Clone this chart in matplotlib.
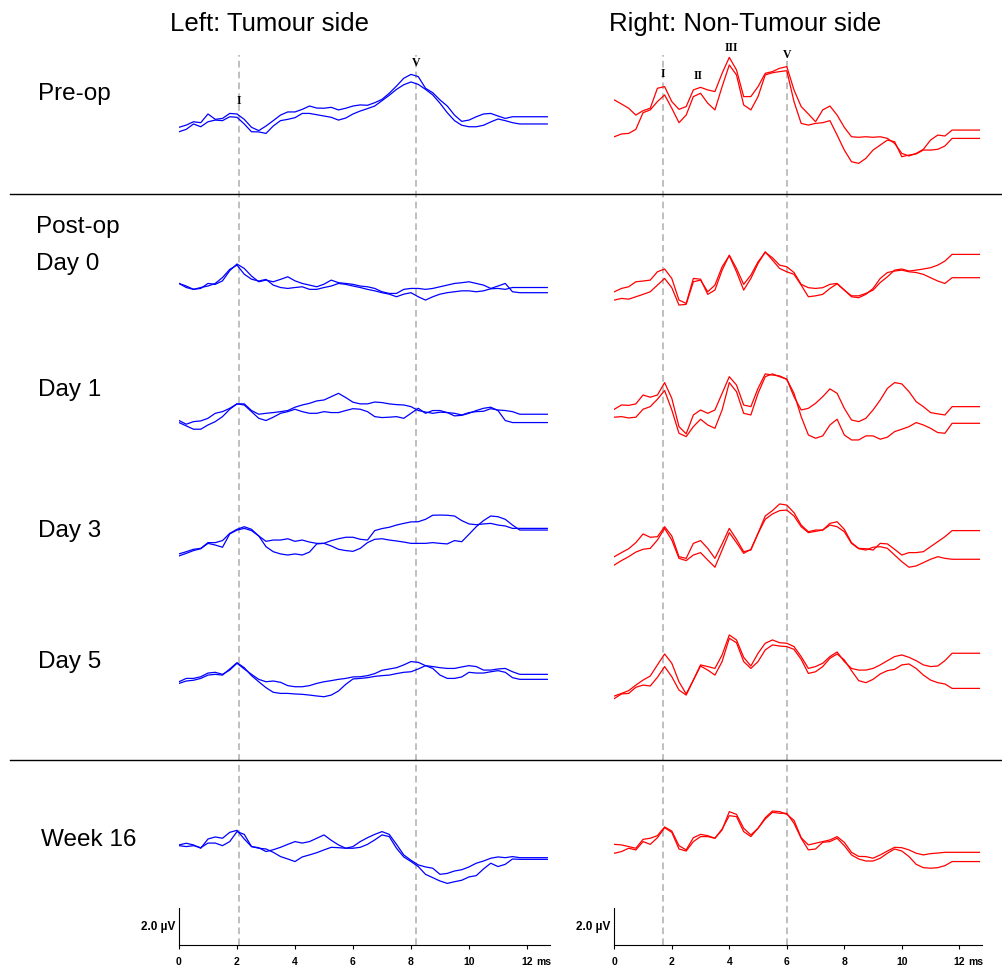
import matplotlib
matplotlib.use("Agg")
import matplotlib.pyplot as plt
import numpy as np
from matplotlib.lines import Line2D

# averaged ABR traces, sampled every 0.25 ms (values in uV)
TIMES = np.arange(48) * 0.25
TAIL_END = 12.7  # traces are padded flat up to here

ROW_NAMES = ["Pre-op", "Day 0", "Day 1", "Day 3", "Day 5", "Week 16"]
ROW_OFFSETS = [44.0, 35.4, 28.4, 21.1, 14.0, 5.1]

LEFT_PEAKS = ["I", "V"]
LEFT_LATENCIES = [2.06, 8.16]
RIGHT_PEAKS = ["I", "II", "III", "V"]
RIGHT_LATENCIES = [1.68, 2.91, 4.06, 6.0]

leftPreA = [0.20, 0.32, 0.50, 0.45, 0.92, 0.63, 0.68, 0.95, 0.92, 0.63, 0.20, 0.02, 0.27, 0.56, 0.86, 1.03,
            1.03, 1.17, 1.35, 1.24, 1.23, 1.28, 1.14, 1.23, 1.35, 1.41, 1.39, 1.53, 1.71, 2.04, 2.43, 2.85,
            3.06, 2.94, 2.31, 2.07, 1.68, 1.35, 0.86, 0.52, 0.59, 0.77, 0.92, 0.95, 0.81, 0.68, 0.77, 0.77]
leftPreB = [-0.04, 0.09, 0.38, 0.23, 0.50, 0.59, 0.56, 0.77, 0.74, 0.38, -0.04, -0.05, -0.13, 0.27, 0.56, 0.63,
            0.72, 0.95, 0.95, 0.88, 0.81, 0.74, 0.59, 0.70, 0.92, 1.08, 1.21, 1.35, 1.64, 1.93, 2.25, 2.50,
            2.65, 2.52, 2.25, 1.95, 1.50, 0.99, 0.56, 0.31, 0.23, 0.23, 0.31, 0.49, 0.65, 0.56, 0.45, 0.38]
rightPreA = [1.68, 1.46, 1.23, 0.86, 1.10, 1.23, 2.31, 2.40, 1.59, 1.17, 1.32, 2.22, 2.36, 2.22, 2.13, 3.12,
             3.98, 3.30, 1.86, 1.86, 2.40, 3.12, 3.21, 3.39, 3.48, 2.22, 1.32, 0.92, 0.50, 1.14, 1.35, 0.86,
             0.20, -0.31, -0.34, -0.31, -0.34, -0.31, -0.40, -0.67, -1.21, -1.35, -1.21, -0.99, -0.49, -0.22, -0.27, 0.05]
rightPreB = [-0.31, -0.16, -0.13, 0.09, 0.99, 1.14, 1.59, 1.95, 1.23, 0.45, 0.86, 1.86, 2.04, 1.50, 1.14, 2.40,
             3.57, 3.03, 1.41, 1.14, 1.86, 3.03, 3.15, 3.21, 3.26, 1.59, 0.41, 0.32, 0.41, 0.45, 0.56, -0.22,
             -1.03, -1.66, -1.75, -1.48, -1.03, -0.76, -0.49, -0.58, -1.39, -1.30, -1.24, -1.03, -1.03, -0.99, -0.81, -0.40]

leftDay0A = [0.36, 0.22, 0.04, 0.09, 0.36, 0.31, 0.50, 1.05, 1.41, 1.17, 0.76, 0.45, 0.54, 0.45, 0.58, 0.72,
             0.50, 0.36, 0.27, 0.18, 0.32, 0.54, 0.40, 0.36, 0.31, 0.22, 0.18, 0.09, -0.09, -0.18, -0.18, 0.04,
             0.09, 0.09, 0.04, 0.09, 0.18, 0.27, 0.36, 0.40, 0.45, 0.36, 0.27, 0.09, 0.22, 0.36, -0.09, -0.14]
leftDay0B = [0.36, 0.14, 0.04, 0.14, 0.22, 0.36, 0.68, 1.12, 1.35, 0.86, 0.59, 0.49, 0.58, 0.27, 0.14, 0.09,
             0.14, 0.18, 0.04, 0.04, 0.14, 0.22, 0.36, 0.31, 0.22, 0.14, 0.04, -0.04, -0.14, -0.22, -0.36, -0.22,
             -0.14, -0.36, -0.54, -0.36, -0.22, -0.14, -0.09, -0.04, -0.04, -0.09, -0.04, 0.07, 0.09, 0.04, 0.14, 0.14]
rightDay0A = [-0.09, 0.09, 0.18, 0.45, 0.49, 0.54, 0.99, 1.14, 0.63, -0.54, -0.72, 0.63, 0.59, -0.23, 0.00, 1.08,
              1.89, 1.17, 0.31, 0.81, 1.53, 2.04, 1.75, 1.35, 1.26, 0.95, 0.31, 0.13, 0.09, 0.13, 0.31, 0.36,
              0.00, -0.31, -0.31, -0.18, 0.00, 0.41, 0.72, 1.08, 1.14, 1.03, 1.08, 1.14, 1.21, 1.35, 1.57, 1.93]
rightDay0B = [-0.54, -0.45, -0.49, -0.36, -0.23, -0.09, 0.27, 0.63, 0.13, -0.81, -0.77, 0.45, 0.54, -0.09, 0.27, 1.26,
              1.86, 0.99, 0.00, 0.63, 1.44, 2.07, 1.62, 1.17, 0.99, 0.85, 0.27, -0.36, -0.31, -0.23, 0.09, 0.34,
              0.00, -0.36, -0.41, -0.23, 0.09, 0.63, 0.95, 1.03, 1.08, 0.99, 0.95, 0.85, 0.67, 0.49, 0.36, 0.67]

leftDay1A = [-0.05, -0.25, -0.11, -0.07, 0.07, 0.34, 0.43, 0.61, 0.85, 0.85, 0.49, 0.29, 0.34, 0.38, 0.43, 0.49,
             0.67, 0.79, 0.88, 1.01, 1.06, 1.24, 1.42, 1.19, 0.94, 0.85, 0.85, 0.95, 0.92, 0.85, 0.81, 0.79,
             0.70, 0.49, 0.41, 0.34, 0.40, 0.38, 0.34, 0.25, 0.38, 0.43, 0.45, 0.59, 0.52, 0.49, 0.43, 0.29]
leftDay1B = [-0.16, -0.34, -0.52, -0.52, -0.29, -0.11, 0.16, 0.56, 0.85, 0.79, 0.43, 0.07, -0.05, 0.13, 0.34, 0.43,
             0.56, 0.43, 0.34, 0.34, 0.43, 0.38, 0.38, 0.49, 0.59, 0.56, 0.43, 0.16, 0.11, 0.13, 0.16, 0.07,
             0.34, 0.61, 0.34, 0.49, 0.49, 0.38, 0.20, 0.23, 0.34, 0.49, 0.61, 0.67, 0.49, -0.05, -0.16, -0.16]
rightDay1A = [0.56, 0.79, 0.77, 0.85, 1.33, 1.21, 1.33, 2.00, 1.15, -0.38, -0.77, 0.25, 0.52, 0.34, 0.52, 1.42,
              2.32, 1.87, 0.79, 0.70, 1.69, 2.47, 2.41, 2.36, 2.18, 1.24, 0.52, 0.61, 0.88, 1.24, 1.66, 1.42,
              0.61, -0.02, -0.11, 0.07, 0.52, 1.06, 1.69, 2.00, 1.93, 1.51, 0.97, 0.70, 0.38, 0.31, 0.25, 0.70]
rightDay1B = [0.13, 0.16, 0.09, 0.13, 0.56, 0.70, 1.10, 1.57, 0.52, -0.74, -0.92, -0.38, 0.02, -0.29, -0.47, 0.52,
              2.00, 1.51, 0.34, 0.25, 1.42, 2.32, 2.47, 2.32, 2.18, 1.42, 0.16, -0.83, -1.01, -0.88, -0.29, 0.02,
              -0.83, -1.10, -1.10, -0.88, -0.88, -1.06, -0.95, -0.65, -0.52, -0.38, -0.16, -0.29, -0.47, -0.70, -0.74, -0.20]

leftDay3A = [0.04, 0.16, 0.29, 0.34, 0.65, 0.65, 0.76, 1.15, 1.37, 1.51, 1.37, 1.01, 0.72, 0.79, 0.79, 0.86,
             0.72, 0.79, 0.68, 0.61, 0.61, 0.76, 0.86, 0.94, 0.94, 0.83, 0.79, 1.30, 1.41, 1.48, 1.60, 1.69,
             1.77, 1.78, 1.91, 2.13, 2.14, 2.13, 2.09, 1.84, 1.66, 1.62, 1.66, 1.69, 1.60, 1.55, 1.42, 1.42]
leftDay3B = [-0.07, 0.07, 0.22, 0.32, 0.61, 0.52, 0.40, 1.12, 1.33, 1.42, 1.30, 1.01, 0.43, 0.16, 0.04, -0.02,
             0.04, -0.02, 0.14, 0.58, 0.61, 0.47, 0.29, 0.22, 0.18, 0.34, 0.65, 0.83, 0.86, 0.79, 0.74, 0.68,
             0.61, 0.61, 0.61, 0.65, 0.61, 0.58, 0.76, 0.70, 1.10, 1.51, 1.84, 2.09, 2.05, 1.91, 1.60, 1.33]
rightDay3A = [-0.11, 0.11, 0.32, 0.65, 1.12, 0.94, 0.97, 1.51, 1.01, -0.11, -0.20, 0.61, 0.76, 0.34, -0.20, 0.58,
              1.42, 0.83, 0.16, 0.25, 1.15, 2.09, 2.38, 2.74, 2.68, 2.27, 1.60, 1.24, 1.33, 1.33, 1.69, 1.78,
              1.37, 0.65, 0.34, 0.32, 0.25, 0.61, 0.58, 0.29, -0.02, 0.11, 0.11, 0.16, 0.43, 0.70, 0.97, 1.30]
rightDay3B = [-0.56, -0.32, -0.11, 0.14, 0.29, 0.34, 0.79, 1.42, 0.79, -0.20, -0.32, -0.02, 0.11, -0.29, -0.68, 0.25,
              1.19, 0.65, 0.07, 0.29, 1.15, 1.91, 2.20, 2.38, 2.41, 2.09, 1.51, 1.19, 1.26, 1.33, 1.60, 1.51,
              1.24, 0.61, 0.32, 0.25, 0.40, 0.43, 0.34, -0.02, -0.38, -0.68, -0.61, -0.43, -0.25, -0.11, -0.20, -0.25]

leftDay5A = [0.23, 0.41, 0.41, 0.50, 0.70, 0.74, 0.63, 0.86, 1.23, 0.92, 0.63, 0.36, 0.23, 0.27, 0.20, 0.02,
             -0.04, -0.04, 0.02, 0.14, 0.23, 0.29, 0.36, 0.41, 0.49, 0.50, 0.56, 0.67, 0.85, 0.92, 0.99, 1.14,
             1.32, 1.28, 1.10, 1.05, 0.99, 0.95, 0.95, 1.03, 1.10, 1.05, 0.86, 0.86, 0.92, 0.95, 0.77, 0.63]
leftDay5B = [0.14, 0.27, 0.31, 0.41, 0.59, 0.63, 0.59, 0.92, 1.26, 0.99, 0.56, 0.23, -0.09, -0.34, -0.40, -0.40,
             -0.43, -0.45, -0.49, -0.54, -0.58, -0.49, -0.27, 0.09, 0.38, 0.41, 0.45, 0.52, 0.56, 0.59, 0.67, 0.74,
             0.77, 0.92, 1.10, 0.95, 0.59, 0.41, 0.41, 0.49, 0.74, 0.70, 0.70, 0.77, 0.83, 0.74, 0.45, 0.36]
rightDay5A = [-0.54, -0.40, -0.25, 0.05, 0.32, 0.54, 1.14, 1.73, 1.23, 0.23, -0.43, 0.32, 1.14, 1.05, 0.95, 1.68,
              2.76, 2.49, 1.55, 1.08, 1.77, 2.31, 2.49, 2.34, 2.31, 2.13, 1.59, 0.95, 1.05, 1.23, 1.59, 1.84,
              1.32, 0.95, 0.86, 0.86, 0.95, 1.14, 1.37, 1.59, 1.68, 1.55, 1.37, 1.14, 1.05, 1.08, 1.37, 1.77]
rightDay5B = [-0.68, -0.43, -0.40, -0.07, 0.05, 0.00, 0.47, 1.05, 0.50, -0.22, -0.49, 0.32, 1.08, 0.86, 0.59, 1.32,
              2.58, 2.34, 1.32, 0.95, 1.32, 1.95, 2.22, 2.16, 2.13, 1.98, 1.44, 0.68, 0.77, 1.05, 1.50, 1.73,
              1.41, 0.83, 0.29, 0.18, 0.36, 0.65, 0.83, 0.90, 1.14, 1.19, 0.95, 0.59, 0.32, 0.18, 0.11, -0.13]

leftWk16A = [0.31, 0.40, 0.31, 0.13, 0.63, 0.74, 0.67, 0.99, 1.10, 0.63, 0.22, 0.16, -0.05, 0.05, 0.18, 0.34,
             0.49, 0.41, 0.49, 0.67, 0.85, 0.56, 0.31, 0.13, 0.22, 0.49, 0.70, 0.88, 1.03, 0.88, 0.34, -0.23,
             -0.52, -0.77, -0.88, -0.95, -1.28, -1.23, -1.10, -1.03, -0.88, -0.68, -0.56, -0.41, -0.34, -0.38, -0.32, -0.38]
leftWk16B = [0.27, 0.22, 0.27, 0.16, 0.41, 0.41, 0.27, 0.49, 1.03, 0.88, 0.22, 0.13, 0.09, -0.09, -0.32, -0.45,
             -0.59, -0.34, -0.23, -0.11, 0.04, 0.18, 0.16, 0.13, 0.13, 0.18, 0.34, 0.58, 0.85, 0.76, 0.13, -0.34,
             -0.59, -0.86, -1.28, -1.46, -1.64, -1.77, -1.68, -1.60, -1.42, -1.35, -0.99, -0.68, -0.86, -0.74, -0.45, -0.47]
rightWk16A = [0.34, 0.31, 0.22, 0.13, 0.61, 0.67, 0.81, 1.28, 1.06, 0.27, 0.04, 0.70, 0.88, 0.81, 0.67, 1.12,
              2.11, 1.96, 1.21, 0.85, 1.21, 1.78, 2.14, 2.11, 1.96, 1.64, 0.70, 0.31, 0.40, 0.49, 0.58, 0.76,
              0.45, -0.09, -0.31, -0.32, -0.41, -0.23, -0.02, 0.18, 0.16, 0.04, -0.14, -0.23, -0.16, -0.13, -0.09, -0.09]
rightWk16B = [-0.14, -0.05, 0.13, 0.04, 0.49, 0.34, 0.70, 1.24, 0.99, 0.09, -0.02, 0.49, 0.76, 0.76, 0.67, 1.17,
              1.89, 1.84, 1.03, 0.76, 1.21, 1.71, 2.07, 2.02, 2.02, 1.48, 0.67, 0.04, 0.09, 0.45, 0.49, 0.67,
              0.27, -0.23, -0.45, -0.56, -0.56, -0.41, -0.14, 0.09, -0.02, -0.32, -0.74, -0.92, -0.95, -0.92, -0.81, -0.59]

LEFT_TRACES = [(leftPreA, leftPreB), (leftDay0A, leftDay0B), (leftDay1A, leftDay1B),
               (leftDay3A, leftDay3B), (leftDay5A, leftDay5B), (leftWk16A, leftWk16B)]
RIGHT_TRACES = [(rightPreA, rightPreB), (rightDay0A, rightDay0B), (rightDay1A, rightDay1B),
                (rightDay3A, rightDay3B), (rightDay5A, rightDay5B), (rightWk16A, rightWk16B)]

W, H = 1003, 971
PX_PER_UV = 18.5
SANS = "Liberation Sans"
SERIF = "Liberation Serif"


def figX(px):
    return px / W


def figY(px):
    return 1 - px / H


def setupAxes(fig, leftPx, pxPerMs):
    ax = fig.add_axes([figX(leftPx), figY(945), 12.8 * pxPerMs / W, 945 / H])
    ax.patch.set_alpha(0)
    ax.set_xlim(0, 12.8)
    ax.set_ylim(0, 945 / PX_PER_UV)
    for side in ["top", "right"]:
        ax.spines[side].set_visible(False)
    ax.spines["left"].set_bounds(0, 2)
    ax.spines["left"].set_linewidth(0.8)
    ax.spines["bottom"].set_linewidth(0.8)
    ax.set_yticks([])
    ax.set_xticks(range(0, 13, 2))
    ax.set_xticklabels([str(v) for v in range(0, 13, 2)], fontsize=7.5, fontweight="bold", family=SANS)
    ax.tick_params(axis="x", direction="out", length=3, width=0.8, pad=5.5)
    ax.text(12.58, -0.92, "ms", fontsize=7.5, fontweight="bold", family=SANS,
            ha="center", va="center", clip_on=False)
    ax.text(-0.12, 0.97, "2.0 \u00b5V", fontsize=8.5, fontweight="bold", family=SANS,
            ha="right", va="center", clip_on=False)
    return ax


def drawColumn(ax, traces, color, latencies, peakNames, labelHeights, dashedAt):
    for lat in dashedAt:
        ax.plot([lat, lat], [0, 48.1], color="#b4b4b4", lw=1.2, ls=(0, (4, 2.5)), zorder=1)
    times = np.append(TIMES, TAIL_END)
    for offset, pair in zip(ROW_OFFSETS, traces):
        for vals in pair:
            vals = np.append(vals, vals[-1])
            ax.plot(times, offset + vals, color=color, lw=0.9, zorder=2)
    for name, lat, h in zip(peakNames, latencies, labelHeights):
        ax.text(lat, h, name, family=SERIF, fontweight="bold", fontsize=8.5,
                ha="center", va="center")


def main():
    fig = plt.figure(figsize=(W / 100, H / 100), dpi=100)

    axL = setupAxes(fig, 179, 29.0)
    axR = setupAxes(fig, 614.3, 28.75)
    drawColumn(axL, LEFT_TRACES, "#0000ff", LEFT_LATENCIES, LEFT_PEAKS, [45.6, 47.7],
               [LEFT_LATENCIES[0], LEFT_LATENCIES[-1]])
    drawColumn(axR, RIGHT_TRACES, "#ff0000", RIGHT_LATENCIES, RIGHT_PEAKS, [47.1, 46.97, 48.5, 48.1],
               [RIGHT_LATENCIES[0], RIGHT_LATENCIES[-1]])

    # column titles and row labels
    fig.text(figX(170), figY(24), "Left: Tumour side", fontsize=18.5, family=SANS, va="center")
    fig.text(figX(609), figY(24), "Right: Non-Tumour side", fontsize=18.5, family=SANS, va="center")
    labelY = [94, 264, 390, 531, 662, 840]
    labelX = [38, 36, 38, 38, 38, 41]
    for name, x, y in zip(ROW_NAMES, labelX, labelY):
        fig.text(figX(x), figY(y), name, fontsize=17.5, family=SANS, va="center")
    fig.text(figX(36), figY(227), "Post-op", fontsize=17.5, family=SANS, va="center")

    # separators between pre-op / post-op / follow-up
    for y in [194, 760]:
        fig.add_artist(Line2D([figX(10), 1.0], [figY(y), figY(y)], color="black", lw=1.0))

    fig.savefig("out.png", dpi=100)


if __name__ == "__main__":
    main()
